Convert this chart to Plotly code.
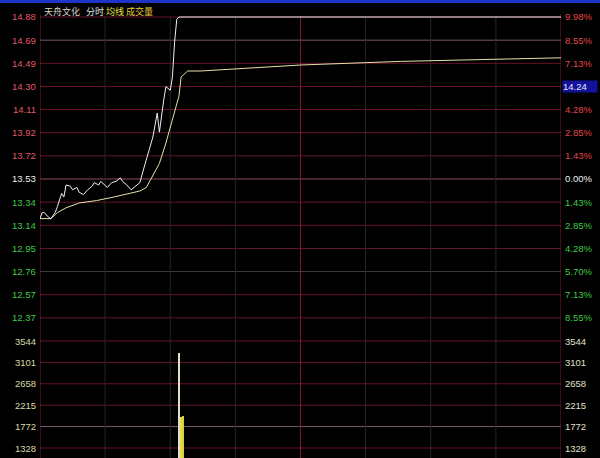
import plotly.graph_objects as go

# ---- data ----
price_min = [0, 1, 2, 4, 5, 7, 8, 10, 11, 12, 14, 15, 17, 18, 20, 22, 24, 25, 27, 28, 31, 33, 35, 37, 38, 40,
             42, 45, 46, 48, 52, 54, 55, 57, 58, 60, 61, 62, 63, 64, 240]
price_val = [13.20, 13.25, 13.25, 13.21, 13.20, 13.25, 13.30, 13.41, 13.38, 13.48, 13.47, 13.44, 13.46, 13.42,
             13.40, 13.44, 13.47, 13.50, 13.48, 13.51, 13.46, 13.50, 13.51, 13.54, 13.51, 13.48,
             13.44, 13.49, 13.50, 13.63, 13.88, 14.08, 13.92, 14.19, 14.30, 14.27, 14.38, 14.67, 14.86, 14.88, 14.88]
avg_min = [0, 5, 8, 12, 18, 26, 34, 41, 46, 49, 52, 55, 58, 61, 64, 65, 68, 74, 83, 120, 166, 212, 240]
avg_val = [13.20, 13.20, 13.25, 13.29, 13.33, 13.35, 13.38, 13.41, 13.43, 13.46, 13.56, 13.66, 13.83, 14.02,
           14.22, 14.38, 14.43, 14.43, 14.44, 14.48, 14.51, 14.53, 14.54]
vol_min = [64, 65, 66]
vol_val = [3290, 1960, 1990]
vol_colors = ["#e0e0c8", "#e0e040", "#d8d040"]

base_price = 13.53
price_ticks = [14.88, 14.687, 14.494, 14.301, 14.109, 13.916, 13.723, 13.53, 13.337, 13.144, 12.951, 12.759, 12.566, 12.373]
price_tick_text = ["14.88", "14.69", "14.49", "14.30", "14.11", "13.92", "13.72", "13.53", "13.34", "13.14",
                   "12.95", "12.76", "12.57", "12.37"]
pct_tick_text = ["9.98%", "8.55%", "7.13%", "", "4.28%", "2.85%", "1.43%", "0.00%", "1.43%", "2.85%",
                 "4.28%", "5.70%", "7.13%", "8.55%"]
vol_ticks = [3544, 3101, 2658, 2215, 1772, 1328]
vol_tick_text = ["3544", "3101", "2658", "2215", "1772", "1328"]
time_grid = [30, 60, 90, 120, 150, 180, 210]
header_parts = [("天舟文化", "#d8d8c8"), ("分时", "#e0e0e0"), ("均线", "#e8e040"), ("成交量", "#e8c840")]
current_label = "14.24"

W, H = 600, 458
def fy(px):
    return 1 - px / H

fig = go.Figure()
fig.add_trace(go.Bar(x=vol_min, y=vol_val, marker=dict(color=vol_colors, line=dict(width=0)),
                     width=0.7, xaxis="x", yaxis="y2", hoverinfo="skip"))
fig.add_trace(go.Scatter(x=avg_min, y=avg_val, mode="lines", line=dict(color="#e8e0a8", width=1),
                         xaxis="x", yaxis="y", hoverinfo="skip"))
fig.add_trace(go.Scatter(x=price_min, y=price_val, mode="lines", line=dict(color="#f0f0f0", width=1),
                         xaxis="x", yaxis="y", hoverinfo="skip"))

k = (14.88 - base_price) / 162.0
p_top = base_price + (179 - 3) * k
p_bot = base_price - (330 - 179) * k
vk = (3544 - 1328) / 107.0
v_top = 3544 + (341 - 330) * vk
v_bot = 3544 - (458 - 341) * vk

shapes = []
annos = []
dark_red = "#661428"
for i, (v, t, pt) in enumerate(zip(price_ticks, price_tick_text, pct_tick_text)):
    if t == "13.53":
        gc = "#8a4a60"
    elif t == "12.76":
        gc = "#3e3a3e"
    elif t == "14.69":
        gc = "#7a5a68"
    else:
        gc = dark_red
    shapes.append(dict(type="line", xref="paper", yref="y", x0=0, x1=1, y0=v, y1=v,
                       line=dict(color=gc, width=1), layer="below"))
    if v > base_price + 1e-6:
        lc, rc = "#e05868", "#e04848"
    elif v < base_price - 1e-6:
        lc, rc = "#40c848", "#40c848"
    else:
        lc, rc = "#f0f0f0", "#f0f0f0"
    annos.append(dict(x=0, xref="paper", y=v, yref="y", text=t, showarrow=False, xanchor="right",
                      xshift=-2, font=dict(family="Liberation Sans", size=9.5, color=lc)))
    if pt:
        annos.append(dict(x=1, xref="paper", y=v, yref="y", text=pt, showarrow=False, xanchor="left",
                          xshift=2, font=dict(family="Liberation Sans", size=9.5, color=rc)))
annos.append(dict(x=1, xref="paper", y=price_ticks[3], yref="y", text=current_label, showarrow=False,
                  xanchor="left", xshift=1, bgcolor="#12129a", width=34, align="left", borderpad=0,
                  font=dict(family="Liberation Sans", size=9.5, color="#e8e8ff")))

for i, (v, t) in enumerate(zip(vol_ticks, vol_tick_text)):
    gc = "#7a5a68" if t == "1772" else dark_red
    shapes.append(dict(type="line", xref="paper", yref="y2", x0=0, x1=1, y0=v, y1=v,
                       line=dict(color=gc, width=1), layer="below"))
    annos.append(dict(x=0, xref="paper", y=v, yref="y2", text=t, showarrow=False, xanchor="right",
                      xshift=-2, font=dict(family="Liberation Sans", size=9.5, color="#d8d8a8")))
    annos.append(dict(x=1, xref="paper", y=v, yref="y2", text=t, showarrow=False, xanchor="left",
                      xshift=2, font=dict(family="Liberation Sans", size=9.5, color="#e0e0c8")))

for tx in time_grid:
    c = "#801830" if tx == 120 else "#262626"
    shapes.append(dict(type="line", xref="x", yref="paper", x0=tx, x1=tx, y0=0, y1=fy(16),
                       line=dict(color=c, width=1), layer="below"))
# borders
for bx in [0, 240]:
    shapes.append(dict(type="line", xref="x", yref="paper", x0=bx, x1=bx, y0=0, y1=fy(14),
                       line=dict(color="#801830", width=1), layer="below"))
# top blue strip
shapes.append(dict(type="rect", xref="paper", yref="paper", x0=-40 / 521, x1=1 + 39 / 521, y0=fy(3), y1=1,
                   fillcolor="#1c34c8", line=dict(width=0)))

hx = [42, 84, 104, 124]
for (txt, col), x in zip(header_parts, hx):
    annos.append(dict(x=(x - 40) / 521, xref="paper", y=fy(11), yref="paper", text=txt, showarrow=False,
                      xanchor="left", yanchor="middle",
                      font=dict(family="Noto Sans CJK SC", size=9, color=col)))

fig.update_layout(
    width=W, height=H, margin=dict(l=40, r=39, t=0, b=0),
    paper_bgcolor="#000000", plot_bgcolor="#000000", showlegend=False, bargap=0,
    xaxis=dict(range=[0, 240], visible=False, fixedrange=True, anchor="y2"),
    yaxis=dict(domain=[fy(330), fy(3)], range=[p_bot, p_top], visible=False, fixedrange=True),
    yaxis2=dict(domain=[0, fy(330)], range=[v_bot, v_top], visible=False, fixedrange=True),
    shapes=shapes, annotations=annos,
)
fig.write_html("out.html")
